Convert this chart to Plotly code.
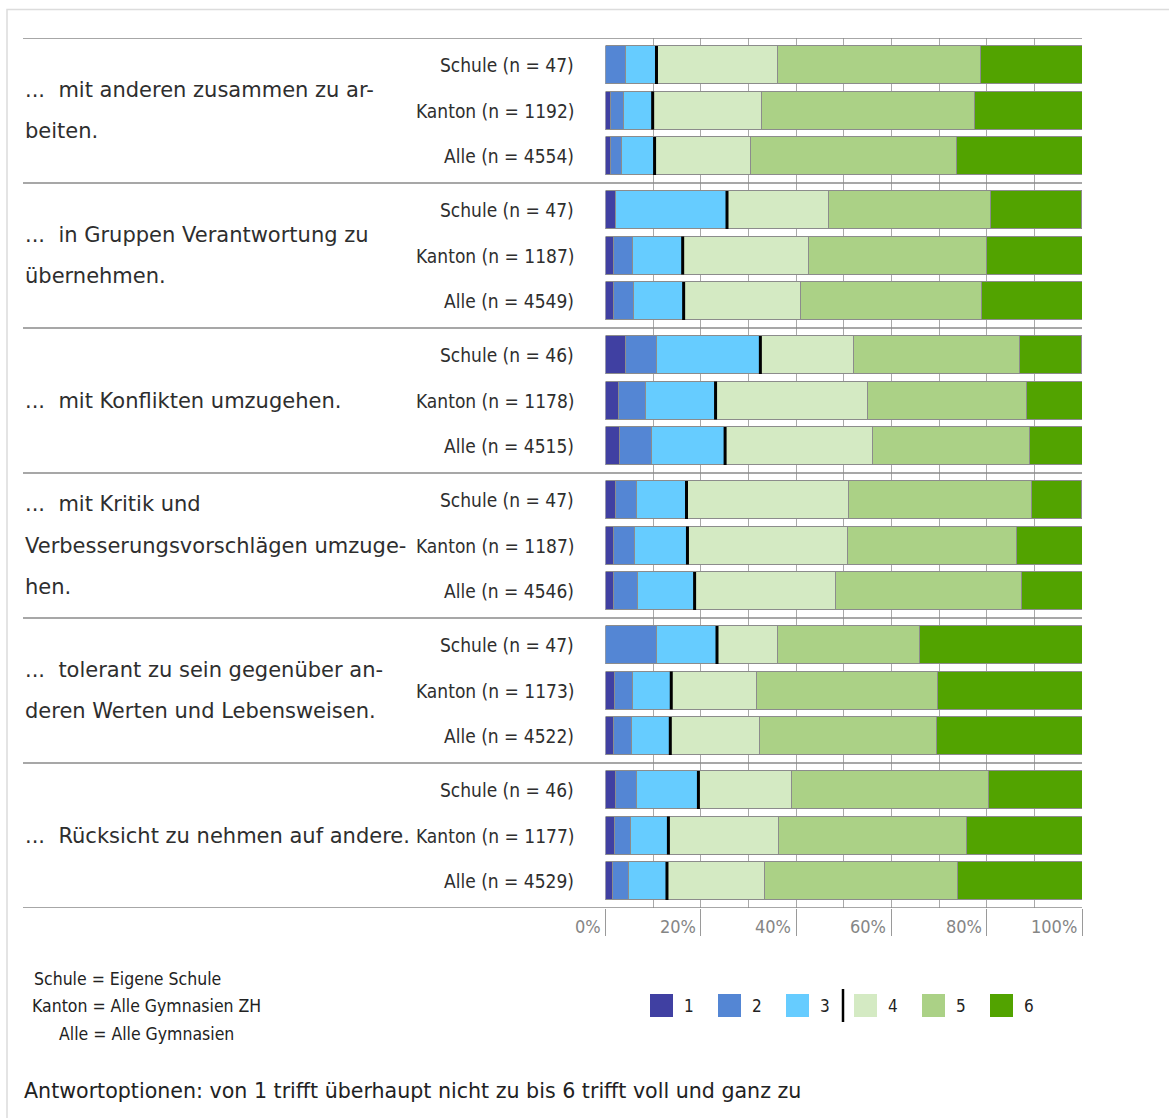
import plotly.graph_objects as go

# ---- data -------------------------------------------------------------
categories = ["1", "2", "3", "4", "5", "6"]
row_names = ["Schule", "Kanton", "Alle"]

questions = [
    ["...\u00a0 mit anderen zusammen zu ar-", "beiten."],
    ["...\u00a0 in Gruppen Verantwortung zu", "übernehmen."],
    ["...\u00a0 mit Konflikten umzugehen."],
    ["...\u00a0 mit Kritik und", "Verbesserungsvorschlägen umzuge-", "hen."],
    ["...\u00a0 tolerant zu sein gegenüber an-", "deren Werten und Lebensweisen."],
    ["...\u00a0 Rücksicht zu nehmen auf andere."],
]

# sample sizes: per question Schule, Kanton, Alle
n_values = [47, 1192, 4554,
            47, 1187, 4549,
            46, 1178, 4515,
            47, 1187, 4546,
            47, 1173, 4522,
            46, 1177, 4529]

# percentages per answer option, ordered by question then Schule/Kanton/Alle
pct_1 = [0.0, 1.0, 1.0, 2.1, 1.6, 1.7, 4.3, 2.7, 2.9, 2.1, 1.7, 1.7, 0.0, 1.9, 1.7, 2.2, 1.9, 1.5]
pct_2 = [4.3, 2.8, 2.4, 0.0, 4.1, 4.1, 6.5, 5.7, 6.8, 4.3, 4.3, 5.0, 10.6, 3.8, 3.8, 4.3, 3.4, 3.4]
pct_3 = [6.4, 6.1, 6.9, 23.4, 10.5, 10.6, 21.7, 14.7, 15.4, 10.6, 11.2, 12.0, 12.8, 8.1, 8.1, 13.0, 7.9, 8.0]
pct_4 = [25.5, 22.9, 20.2, 21.3, 26.4, 24.6, 19.6, 31.9, 31.0, 34.0, 33.6, 29.6, 12.8, 17.9, 18.8, 19.6, 23.2, 20.4]
pct_5 = [42.6, 44.6, 43.2, 34.0, 37.4, 38.0, 34.8, 33.3, 32.9, 38.3, 35.5, 39.0, 29.8, 38.0, 37.1, 41.3, 39.4, 40.5]
pct_6 = [21.3, 22.6, 26.3, 19.1, 20.0, 21.0, 13.0, 11.7, 11.0, 10.6, 13.7, 12.7, 34.0, 30.3, 30.5, 19.6, 24.2, 26.2]

tick_values = [0, 20, 40, 60, 80, 100]
tick_labels = ["0%", "20%", "40%", "60%", "80%", "100%"]

definitions = ["Schule = Eigene Schule", "Kanton = Alle Gymnasien ZH", "Alle = Alle Gymnasien"]
footer = "Antwortoptionen: von 1 trifft überhaupt nicht zu bis 6 trifft voll und ganz zu"

colors = ["#4040a2", "#5486d4", "#66ccff", "#d4eac3", "#abd186", "#52a300"]

# ---- layout geometry (pixels) -----------------------------------------
W, H = 1169, 1118
PLOT_L, PLOT_R = 605.5, 1082
PLOT_T, PLOT_B = 38, 908
GROUP_H = 145
ROW_OFFSETS = [27, 72.5, 118]
BAR_H = 38
FONT = "DejaVu Sans"
FONT_C = "DejaVu Sans Condensed"
TEXT = "#2e2e2e"


def px_x(x):
    return x / W


def px_y(y):
    return 1 - y / H


series = [pct_1, pct_2, pct_3, pct_4, pct_5, pct_6]
n_groups = len(questions)
y_pos = [g * GROUP_H + off for g in range(n_groups) for off in ROW_OFFSETS]

fig = go.Figure()

for cat, vals, col in zip(categories, series, colors):
    fig.add_trace(go.Bar(
        x=vals, y=y_pos, orientation="h", name=cat,
        width=BAR_H,
        marker=dict(color=col, line=dict(color="#8c8c8c", width=1)),
        showlegend=False,
        hovertemplate="%{x:.1f}%<extra>" + cat + "</extra>",
    ))

# black marker between answers 3 and 4
mx, my = [], []
for i, yc in enumerate(y_pos):
    c3 = pct_1[i] + pct_2[i] + pct_3[i]
    mx += [c3, c3, None]
    my += [yc - BAR_H / 2, yc + BAR_H / 2, None]
fig.add_trace(go.Scatter(x=mx, y=my, mode="lines",
                         line=dict(color="black", width=3),
                         showlegend=False, hoverinfo="skip"))

shapes = []
annotations = []

# outer frame
shapes.append(dict(type="rect", xref="paper", yref="paper",
                   x0=px_x(7), x1=1.05, y0=-0.05, y1=px_y(9.5),
                   line=dict(color="#dcdcdc", width=1.5), layer="below"))

# group separators
for g in range(n_groups + 1):
    shapes.append(dict(type="line", xref="paper", yref="y",
                       x0=px_x(23), x1=px_x(PLOT_R), y0=g * GROUP_H, y1=g * GROUP_H,
                       line=dict(color="#8a8a8a", width=1.5), layer="above"))

# question texts
LINE_SP = 41.5
for g, lines in enumerate(questions):
    center = g * GROUP_H + GROUP_H / 2
    k = len(lines)
    for j, ln in enumerate(lines):
        annotations.append(dict(
            text=ln, xref="paper", yref="y", x=px_x(23),
            y=center + (j - (k - 1) / 2) * LINE_SP,
            xanchor="left", yanchor="middle", showarrow=False,
            font=dict(family=FONT, size=21, color=TEXT)))

# row labels
for i, yc in enumerate(y_pos):
    annotations.append(dict(
        text=f"{row_names[i % 3]} (n = {n_values[i]})",
        xref="paper", yref="y", x=px_x(576), y=yc,
        xanchor="right", yanchor="middle", showarrow=False,
        font=dict(family=FONT_C, size=19, color=TEXT)))

# x tick labels, set to the left of each tick
for v, lab in zip(tick_values, tick_labels):
    annotations.append(dict(
        text=lab, xref="x", yref="paper", x=v, y=px_y(926),
        xanchor="right", yanchor="middle", xshift=-3, showarrow=False,
        font=dict(family=FONT_C, size=18, color="#858585")))

# definitions block
def_x = [32, 30, 57]
def_y = [979, 1006, 1034]
for t, x, y in zip(definitions, def_x, def_y):
    annotations.append(dict(
        text=t, xref="paper", yref="paper", x=px_x(x), y=px_y(y),
        xanchor="left", yanchor="middle", showarrow=False,
        font=dict(family=FONT_C, size=17.5, color="#222222")))

# colour key
for i, (cat, col) in enumerate(zip(categories, colors)):
    left = 650 + i * 68
    shapes.append(dict(type="rect", xref="paper", yref="paper",
                       x0=px_x(left), x1=px_x(left + 23),
                       y0=px_y(1017), y1=px_y(994),
                       fillcolor=col, line=dict(width=0)))
    annotations.append(dict(
        text=cat, xref="paper", yref="paper", x=px_x(left + 32), y=px_y(1006),
        xanchor="left", yanchor="middle", showarrow=False,
        font=dict(family=FONT_C, size=17, color="#222222")))
shapes.append(dict(type="line", xref="paper", yref="paper",
                   x0=px_x(843), x1=px_x(843), y0=px_y(1022), y1=px_y(989),
                   line=dict(color="black", width=2.5)))

# footer
annotations.append(dict(
    text=footer, xref="paper", yref="paper", x=px_x(22), y=px_y(1091),
    xanchor="left", yanchor="middle", showarrow=False,
    font=dict(family=FONT, size=20.6, color="#222222")))

fig.update_layout(
    width=W, height=H, autosize=False,
    margin=dict(l=0, r=0, t=0, b=0),
    paper_bgcolor="white", plot_bgcolor="white",
    barmode="stack", bargap=0,
    shapes=shapes, annotations=annotations,
    xaxis=dict(
        domain=[px_x(PLOT_L), px_x(PLOT_R)], range=[0, 100],
        tickvals=tick_values, showticklabels=False,
        ticks="outside", ticklen=27, tickwidth=1.2, tickcolor="#9a9a9a",
        showgrid=True, gridcolor="#a8a8a8", gridwidth=1,
        minor=dict(dtick=10, showgrid=True, gridcolor="#a8a8a8", gridwidth=1, ticks=""),
        zeroline=False, showline=False, fixedrange=True,
    ),
    yaxis=dict(
        domain=[px_y(PLOT_B), px_y(PLOT_T)],
        range=[n_groups * GROUP_H, 0],
        visible=False, fixedrange=True,
    ),
    hovermode="closest",
)

fig.write_html("out.html")
